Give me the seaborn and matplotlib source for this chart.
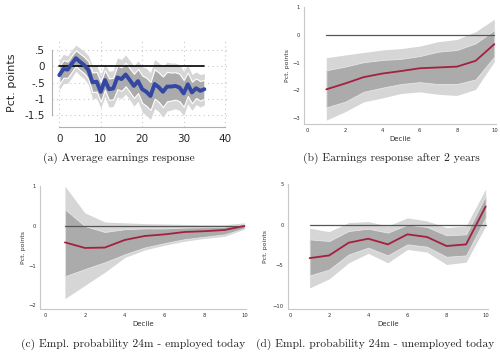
import numpy as np
import pandas as pd
import matplotlib
matplotlib.use("Agg")
import matplotlib.pyplot as plt
import seaborn as sns

# ---------------- data ----------------
# Panel (a): average earnings response by month
months_a = list(range(36))
coef_a = [-0.27, -0.08, -0.10, 0.08, 0.25, 0.14, 0.04, -0.11, -0.49, -0.47,
          -0.78, -0.42, -0.70, -0.68, -0.34, -0.39, -0.25, -0.42, -0.60, -0.45,
          -0.70, -0.78, -0.91, -0.54, -0.64, -0.78, -0.62, -0.62, -0.60, -0.65,
          -0.83, -0.55, -0.80, -0.67, -0.75, -0.70]
outer_hw_a = [0.45, 0.45, 0.42, 0.42, 0.40, 0.42, 0.42, 0.45, 0.50, 0.50,
              0.50, 0.50, 0.55, 0.55, 0.60, 0.60, 0.60, 0.60, 0.62, 0.62,
              0.70, 0.72, 0.72, 0.75, 0.75, 0.78, 0.75, 0.72, 0.70, 0.70,
              0.68, 0.60, 0.55, 0.50, 0.50, 0.48]
inner_hw_a = [0.27, 0.27, 0.25, 0.25, 0.24, 0.25, 0.25, 0.27, 0.30, 0.30,
              0.30, 0.30, 0.33, 0.33, 0.36, 0.36, 0.36, 0.36, 0.37, 0.37,
              0.42, 0.43, 0.43, 0.45, 0.45, 0.47, 0.45, 0.43, 0.42, 0.42,
              0.41, 0.36, 0.33, 0.30, 0.30, 0.29]

deciles = list(range(1, 11))

# Panel (b): earnings response after 2 years
coef_b = [-1.96, -1.75, -1.52, -1.39, -1.30, -1.20, -1.17, -1.14, -0.93, -0.33]
outer_hi_b = [-0.82, -0.72, -0.63, -0.54, -0.49, -0.40, -0.24, -0.16, 0.12, 0.57]
inner_hi_b = [-1.27, -1.14, -0.98, -0.90, -0.86, -0.76, -0.60, -0.54, -0.30, 0.18]
inner_lo_b = [-2.61, -2.41, -2.05, -1.90, -1.77, -1.70, -1.77, -1.77, -1.60, -0.78]
outer_lo_b = [-3.07, -2.77, -2.41, -2.27, -2.11, -2.05, -2.14, -2.18, -1.96, -0.96]

# Panel (c): employment probability 24m - employed today
coef_c = [-0.42, -0.56, -0.55, -0.36, -0.26, -0.22, -0.16, -0.14, -0.11, -0.01]
outer_hi_c = [0.99, 0.32, 0.09, 0.07, 0.05, 0.04, 0.03, 0.02, 0.02, 0.07]
inner_hi_c = [0.41, -0.01, -0.16, -0.09, -0.07, -0.07, -0.05, -0.04, -0.03, 0.04]
inner_lo_c = [-1.27, -1.09, -0.92, -0.72, -0.55, -0.44, -0.34, -0.28, -0.22, -0.07]
outer_lo_c = [-1.83, -1.50, -1.17, -0.80, -0.61, -0.49, -0.39, -0.32, -0.27, -0.09]

# Panel (d): employment probability 24m - unemployed today
coef_d = [-4.13, -3.80, -2.23, -1.74, -2.44, -1.20, -1.53, -2.64, -2.44, 2.23]
outer_hi_d = [-0.45, -0.87, 0.25, 0.37, -0.17, 0.83, 0.45, -0.37, -0.17, 4.38]
inner_hi_d = [-1.82, -2.02, -0.79, -0.50, -0.99, 0.00, -0.29, -1.32, -1.20, 3.55]
inner_lo_d = [-6.28, -5.54, -3.68, -2.85, -3.80, -2.44, -2.73, -3.97, -3.80, 0.87]
outer_lo_d = [-7.81, -6.69, -4.71, -3.55, -4.71, -3.06, -3.39, -4.92, -4.63, -0.17]

yticks_a = [0.5, 0, -0.5, -1, -1.5]
yticklabels_a = [".5", "0", "-.5", "-1", "-1.5"]
xticks_a = [0, 10, 20, 30, 40]
xticks_dec = [0, 2, 4, 6, 8, 10]

captions = ["(a) Average earnings response",
            "(b) Earnings response after 2 years",
            "(c) Empl. probability 24m - employed today",
            "(d) Empl. probability 24m - unemployed today"]

# ---------------- style ----------------
sns.set_style("white")
plt.rcParams["font.family"] = ["DejaVu Sans"]

OUTER = "#d6d6d6"
INNER = "#ababab"
RED = "#a3213f"
BLUE = "#3347a3"
SPINE = "#c8c8c8"

fig = plt.figure(figsize=(5.0, 3.58), dpi=100)

def box(l, t, r, b):
    W, H = 500.0, 358.0
    return [l / W, 1 - b / H, (r - l) / W, (b - t) / H]

# ---------------- panel (a) ----------------
ax = fig.add_axes(box(52, 38, 228, 127))
df_a = pd.DataFrame({"m": months_a, "c": coef_a})
ca = np.array(coef_a); oa = np.array(outer_hw_a); ia = np.array(inner_hw_a)
ax.fill_between(months_a, ca - oa, ca + oa, color=OUTER, lw=0, zorder=1)
ax.fill_between(months_a, ca - ia, ca + ia, color=INNER, edgecolor="white", lw=0.8, zorder=2)
ax.plot([0, 35], [0, 0], color="black", lw=1.2, zorder=3)
sns.lineplot(data=df_a, x="m", y="c", ax=ax, color=BLUE, lw=2.8, zorder=4)
ax.set_xlim(-1.76, 40.7)
ax.set_ylim(-1.86, 0.87)
ax.set_yticks(yticks_a)
ax.set_yticklabels(yticklabels_a)
ax.set_xticks(xticks_a)
ax.grid(True, ls=(0, (1, 3)), color="#c8c8c8", lw=0.8)
ax.set_axisbelow(True)
for s in ["top", "right"]:
    ax.spines[s].set_visible(False)
ax.spines["left"].set_bounds(-1.5, 0.5)
ax.spines["bottom"].set_bounds(0, 40)
for s in ["left", "bottom"]:
    ax.spines[s].set_color("#b0b0b0")
    ax.spines[s].set_linewidth(0.8)
ax.tick_params(axis="both", labelsize=7.5, length=3, width=0.6, color="#b0b0b0", pad=2)
ax.set_xlabel("")
ax.set_ylabel("Pct. points", fontsize=8)
ax.yaxis.set_label_coords(-0.2, 0.5)

# ---------------- panels (b), (c), (d) ----------------
def decile_panel(rect, coef, olo, ilo, ihi, ohi, xlim, ylim, yticks, ylabel_x, xlabel_y):
    ax = fig.add_axes(rect)
    df = pd.DataFrame({"d": deciles, "c": coef})
    ax.fill_between(deciles, olo, ohi, color=OUTER, lw=0, zorder=1)
    ax.fill_between(deciles, ilo, ihi, color=INNER, edgecolor="#e6e6e6", lw=0.6, zorder=2)
    ax.plot([1, 10], [0, 0], color="#555555", lw=0.9, zorder=3)
    sns.lineplot(data=df, x="d", y="c", ax=ax, color=RED, lw=1.3, zorder=4)
    ax.set_xlim(*xlim)
    ax.set_ylim(*ylim)
    ax.set_xticks(xticks_dec)
    ax.set_yticks(yticks)
    for s in ["top", "right"]:
        ax.spines[s].set_visible(False)
    for s in ["left", "bottom"]:
        ax.spines[s].set_color(SPINE)
        ax.spines[s].set_linewidth(0.8)
    ax.tick_params(axis="both", labelsize=3.8, length=1.5, width=0.4, color=SPINE,
                   labelcolor="#333333", pad=1.5)
    ax.set_xlabel("Decile", fontsize=5, color="#333333")
    ax.set_ylabel("Pct. points", fontsize=4.5, color="#333333")
    ax.yaxis.set_label_coords(ylabel_x, 0.5)
    ax.xaxis.set_label_coords(0.5, xlabel_y)
    return ax

decile_panel(box(304.3, 7.3, 496, 124), coef_b, outer_lo_b, inner_lo_b, inner_hi_b, outer_hi_b,
             (-0.18, 10.09), (-3.21, 1.0), [1, 0, -1, -2, -3], -0.075, -0.10)
decile_panel(box(40, 185.7, 246, 309), coef_c, outer_lo_c, inner_lo_c, inner_hi_c, outer_hi_c,
             (-0.25, 10.08), (-2.09, 1.0), [1, 0, -1, -2], -0.07, -0.10)
decile_panel(box(287.7, 184, 488, 309), coef_d, outer_lo_d, inner_lo_d, inner_hi_d, outer_hi_d,
             (-0.12, 10.12), (-10.4, 5.0), [5, 0, -5, -10], -0.10, -0.10)

# ---------------- captions ----------------
cap_pos = [(118.5, 158), (391, 158), (133, 344), (375, 344)]
for (cx, cy), txt in zip(cap_pos, captions):
    fig.text(cx / 500, 1 - cy / 358, txt, ha="center", va="center",
             fontsize=8.3, family=["cmr10", "DejaVu Serif"], color="#222222")

fig.savefig("out.png", dpi=100)
